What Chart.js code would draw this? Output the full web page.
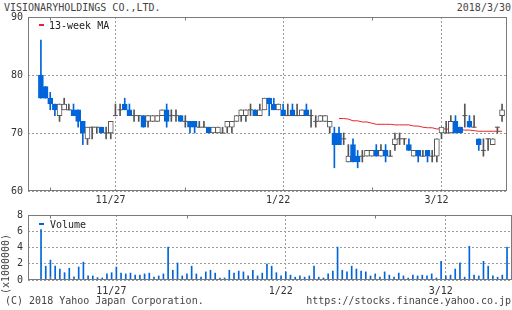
<!DOCTYPE html>
<html>
<head>
<meta charset="utf-8">
<script src="https://cdn.jsdelivr.net/npm/chart.js@4.4.1/dist/chart.umd.min.js"></script>
<style>
  body { margin: 0; width: 512px; height: 310px; background: #fff; position: relative; overflow: hidden;
         font-family: "DejaVu Sans Mono", monospace; font-size: 10px; color: #444; }
  .txt { position: absolute; white-space: nowrap; line-height: 10px; }
  .mark { position: absolute; width: 5px; height: 2px; }
  canvas { position: absolute; left: 0; }
</style>
</head>
<body>
<div class="txt" style="left:4px;top:3px">VISIONARYHOLDINGS CO.,LTD.</div>
<div class="txt" style="right:1px;top:3px">2018/3/30</div>

<canvas id="priceChart" width="512" height="206" style="top:0"></canvas>
<canvas id="volumeChart" width="512" height="95" style="top:200px"></canvas>

<div class="mark" style="left:39px;top:24px;background:#e8242c"></div>
<div class="txt" style="left:49px;top:21px;color:#222">13-week MA</div>
<div class="mark" style="left:39px;top:223px;background:#0065db"></div>
<div class="txt" style="left:50px;top:220px;color:#222">Volume</div>
<div class="txt" style="left:6px;top:264px;transform:translate(-50%,-50%) rotate(-90deg)">(x1000000)</div>

<div class="txt" style="left:5px;top:296px">(C) 2018 Yahoo Japan Corporation.</div>
<div class="txt" style="right:1px;top:296px">https://stocks.finance.yahoo.co.jp</div>

<script>
// DATA
const dates = [
  "11/1","11/2","11/6","11/7","11/8","11/9","11/10","11/13","11/14","11/15",
  "11/16","11/17","11/20","11/21","11/22","11/24","11/27","11/28","11/29","11/30",
  "12/1","12/4","12/5","12/6","12/7","12/8","12/11","12/12","12/13","12/14",
  "12/15","12/18","12/19","12/20","12/21","12/22","12/25","12/26","12/27","12/28",
  "12/29","1/4","1/5","1/9","1/10","1/11","1/12","1/15","1/16","1/17",
  "1/18","1/19","1/22","1/23","1/24","1/25","1/26","1/29","1/30","1/31",
  "2/1","2/2","2/5","2/6","2/7","2/8","2/9","2/13","2/14","2/15",
  "2/16","2/19","2/20","2/21","2/22","2/23","2/26","2/27","2/28","3/1",
  "3/2","3/5","3/6","3/7","3/8","3/9","3/12","3/13","3/14","3/15",
  "3/16","3/19","3/20","3/22","3/23","3/26","3/27","3/28","3/29","3/30"
];

const open = [
  80,78,76,75,73,74,74,74,74,72, 69,71,71,71,70,70,73,74,75,74,
  73,73,73,72,72,72,73,74,73,73, 73,72,72,72,71,71,71,70,70,70,
  71,71,72,73,73,74,74,73,74,76, 75,74,74,73,74,73,73,74,73,72,
  72,72,71,70,70,69,65,68,66,66, 66,66,67,66,67,66,68,69,69,68,
  66,67,66,67,66,66,70,70,70,72, 71,73,72,71,69,67,69,68,71,73
];
const high = [
  86,78,77,75,75,76,75,75,74,72, 71,71,71,71,71,72,75,75,76,75,
  74,73,73,73,73,73,74,75,74,74, 73,73,72,72,72,72,71,71,71,71,
  72,72,73,74,74,75,74,75,76,76, 76,75,75,75,75,75,74,75,74,73,
  73,73,72,71,71,70,68,69,67,67, 67,67,68,68,68,67,70,70,69,69,
  67,67,67,67,67,69,71,72,73,73, 71,75,73,73,69,69,69,69,71,75
];
const low = [
  76,76,74,73,72,74,74,73,71,68, 68,69,70,70,69,69,73,73,74,73,
  72,72,71,71,72,72,73,71,72,72, 72,71,70,70,71,71,70,70,70,70,
  70,70,72,72,72,73,73,73,74,73, 74,74,73,73,73,73,73,73,71,71,
  72,72,70,64,68,68,65,65,64,65, 66,66,66,66,65,66,67,68,68,67,
  66,65,66,65,65,65,69,70,70,70, 70,71,71,71,67,66,67,68,70,72
];
const close = [
  76,76,75,74,75,75,74,73,72,70, 71,71,71,70,70,72,73,74,74,73,
  73,73,71,73,73,73,74,72,73,73, 72,72,71,71,71,71,70,71,71,70,
  72,72,73,74,74,74,73,74,76,75, 74,75,73,73,73,73,74,73,73,72,
  73,73,72,68,68,69,66,65,65,66, 67,67,66,67,66,66,69,69,69,67,
  67,66,66,66,66,69,71,70,72,70, 70,73,71,71,68,67,69,69,71,74
];

const ma13 = [
  null,null,null,null,null,null,null,null,null,null, null,null,null,null,null,null,null,null,null,null,
  null,null,null,null,null,null,null,null,null,null, null,null,null,null,null,null,null,null,null,null,
  null,null,null,null,null,null,null,null,null,null, null,null,null,null,null,null,null,null,null,null,
  null,null,null,null,72.5,72.5,72.4,72.1,72.1,71.9, 71.9,71.7,71.5,71.5,71.5,71.5,71.4,71.4,71.4,71.4,
  71.2,71.2,71.0,70.9,70.9,70.7,70.7,70.7,70.6,70.6, 70.6,70.5,70.5,70.4,70.3,70.3,70.3,70.3,70.3,70.3
];

// volume in millions of shares
const volume = [
  6.2,1.7,2.45,1.7,1.35,0.9,1.45,0.4,1.6,2.2,
  0.5,0.5,0.3,0.25,0.75,0.9,1.6,0.85,0.75,0.85,
  0.6,0.6,0.75,0.85,0.35,0.5,0.75,4.05,1.2,2.1,
  0.5,0.75,1.7,0.75,0.35,1.0,1.2,0.85,0.25,0.25,
  1.2,0.85,1.1,1.0,0.5,1.2,0.5,0.85,1.95,1.7,
  0.9,0.5,1.0,0.6,0.35,0.5,0.35,0.5,1.7,0.35,
  0.25,0.75,1.1,4.05,1.2,1.0,1.7,1.35,1.1,1.0,
  0.5,0.75,0.35,1.0,0.6,0.35,0.85,0.5,0.25,0.6,
  0.5,0.6,0.5,0.75,0.25,2.3,0.5,0.6,1.35,2.1,
  0.35,4.15,0.6,0.5,2.3,1.7,0.5,0.35,0.6,4.05
];

const labelIdx = [16, 52, 86];   // 11/27, 1/22, 3/12
const markIdx = [2, 31, 71];
const priceTicks = [60, 70, 80, 90];
const volumeTicks = [0, 2, 4, 6, 8];

const BLUE = "#0065db";
const GRAY = "#555555";
const RED = "#e8242c";
const FONT = { family: "DejaVu Sans Mono", size: 10 };

// PLUGINS
const frame = {
  id: "frame",
  afterDatasetsDraw(chart) {
    const { ctx, chartArea: a, scales } = chart;
    ctx.save();
    ctx.strokeStyle = "#7a7a7a";
    ctx.lineWidth = 1;
    const l = Math.round(a.left) + 0.5, t = Math.round(a.top) + 0.5;
    const r = Math.round(a.right) - 0.5, b = Math.round(a.bottom) - 0.5;
    ctx.strokeRect(l, t, r - l, b - t);
    ctx.beginPath();
    markIdx.forEach(v => {
      const px = Math.round(scales.x.getPixelForValue(v)) + 0.5;
      ctx.moveTo(px, t); ctx.lineTo(px, t + 3);
      ctx.moveTo(px, b); ctx.lineTo(px, b - 3);
    });
    ctx.stroke();
    ctx.restore();
  }
};

function xAxis(pad) {
  return {
    type: "linear",
    offset: false,
    min: -2.77,
    max: 100.06,
    afterBuildTicks: s => { s.ticks = labelIdx.map(v => ({ value: v })); },
    afterFit: s => { s.height = 15; },
    ticks: { callback: v => dates[v], font: FONT, color: "#333", padding: pad,
             labelOffset: -5, maxRotation: 0, autoSkip: false },
    grid: { color: "#9a9a9a", drawTicks: false, offset: false },
    border: { display: false, dash: [2, 2] }
  };
}

function yAxis(values) {
  return {
    min: values[0],
    max: values[values.length - 1],
    afterBuildTicks: s => { s.ticks = values.map(v => ({ value: v })); },
    afterFit: s => { s.width = 28; },
    ticks: { font: FONT, color: "#333", padding: 5 },
    grid: { color: "#9a9a9a", drawTicks: false },
    border: { display: false, dash: [2, 2] }
  };
}

const isDown = i => close[i] < open[i];

// PRICE CHART
new Chart(document.getElementById("priceChart"), {
  type: "bar",
  data: {
    datasets: [
      {
        type: "line",
        label: "13-week MA",
        data: ma13.map((v, i) => ({ x: i, y: v })),
        borderColor: RED,
        borderWidth: 1,
        pointRadius: 0,
        order: 3
      },
      {
        label: "wick",
        data: low.map((l, i) => ({ x: i, y: [l, high[i]] })),
        backgroundColor: open.map((o, i) => isDown(i) ? BLUE : GRAY),
        barThickness: 1,
        order: 2
      },
      {
        label: "body",
        data: open.map((o, i) => ({ x: i, y: o === close[i] ? null : [o, close[i]] })),
        backgroundColor: open.map((o, i) => isDown(i) ? BLUE : "#ffffff"),
        borderColor: open.map((o, i) => isDown(i) ? BLUE : GRAY),
        borderWidth: 1,
        borderSkipped: false,
        barThickness: 5,
        order: 1
      },
      {
        type: "line",
        label: "doji",
        data: open.map((o, i) => ({ x: i, y: o === close[i] ? o : null })),
        showLine: false,
        pointStyle: "line",
        pointRadius: 2.5,
        borderColor: GRAY,
        borderWidth: 1,
        order: 0
      }
    ]
  },
  options: {
    responsive: false,
    animation: false,
    devicePixelRatio: 1,
    layout: { padding: { top: 17, right: 0, left: 0, bottom: 0 } },
    datasets: { bar: { grouped: false, skipNull: true } },
    plugins: { legend: { display: false }, tooltip: { enabled: false } },
    scales: { x: xAxis(3), y: yAxis(priceTicks) }
  },
  plugins: [frame]
});

// VOLUME CHART
new Chart(document.getElementById("volumeChart"), {
  type: "bar",
  data: {
    datasets: [{
      label: "Volume",
      data: volume.map((v, i) => ({ x: i, y: v })),
      backgroundColor: BLUE,
      barThickness: 1
    }]
  },
  options: {
    responsive: false,
    animation: false,
    devicePixelRatio: 1,
    layout: { padding: { top: 15, right: 0, left: 0, bottom: 0 } },
    plugins: { legend: { display: false }, tooltip: { enabled: false } },
    scales: { x: xAxis(5), y: yAxis(volumeTicks) }
  },
  plugins: [frame]
});
</script>
</body>
</html>
